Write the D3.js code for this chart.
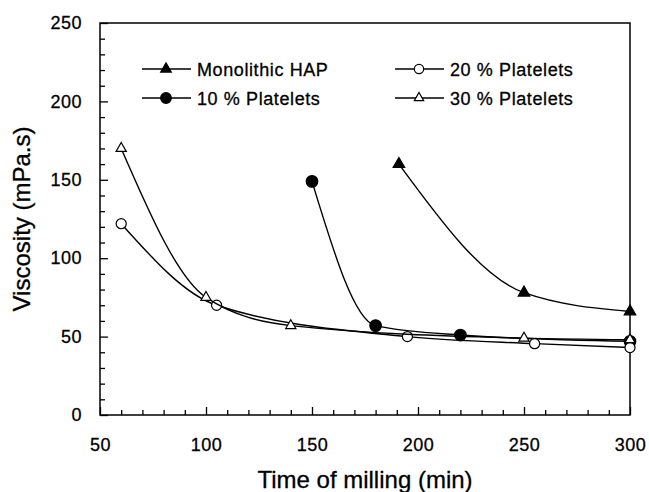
<!DOCTYPE html>
<html>
<head>
<meta charset="utf-8">
<script src="https://cdn.jsdelivr.net/npm/d3@7"></script>
<style>
  html, body { margin: 0; padding: 0; background: #fff; }
  text { font-family: "Liberation Sans", Arial, Helvetica, sans-serif; fill: #000; stroke: #000; stroke-width: 0.3px; }
</style>
</head>
<body>
<svg id="chart"></svg>
<script>
// time of milling (min) and viscosity (mPa.s)
const monoTime = [191, 250, 300];
const monoVisc = [160, 78, 66];

const p10Time = [150, 180, 220, 300];
const p10Visc = [149, 57, 51, 47];

const p20Time = [60, 105, 195, 255, 300];
const p20Visc = [122, 70, 50, 45.5, 43];

const p30Time = [60, 100, 140, 250, 300];
const p30Visc = [170, 75, 57, 49, 48];

const xTicks = [50, 100, 150, 200, 250, 300];
const yTicks = [0, 50, 100, 150, 200, 250];

const seriesNames = ["Monolithic HAP", "10 % Platelets", "20 % Platelets", "30 % Platelets"];

const width = 649;
const height = 492;
const margin = { left: 100, right: 19, top: 23, bottom: 77 };

const svg = d3.select("#chart")
    .attr("width", width)
    .attr("height", height);

const x = d3.scaleLinear()
    .domain([50, 300])
    .range([margin.left, width - margin.right]);

const y = d3.scaleLinear()
    .domain([0, 250])
    .range([height - margin.bottom, margin.top]);

const series = [
  { name: seriesNames[0], time: monoTime, visc: monoVisc, shape: d3.symbolTriangle, size: 58, fill: "#000" },
  { name: seriesNames[1], time: p10Time, visc: p10Visc, shape: d3.symbolCircle, size: 105, fill: "#000" },
  { name: seriesNames[2], time: p20Time, visc: p20Visc, shape: d3.symbolCircle, size: 80, fill: "#fff" },
  { name: seriesNames[3], time: p30Time, visc: p30Visc, shape: d3.symbolTriangle, size: 45, fill: "#fff" }
];

// minor ticks every 10
const xMinor = d3.range(50, 301, 10).filter(v => !xTicks.includes(v));
const yMinor = d3.range(0, 251, 10).filter(v => !yTicks.includes(v));

svg.append("g")
    .attr("transform", `translate(0,${y(0)})`)
    .call(d3.axisBottom(x).tickValues(xTicks).tickSize(-8).tickPadding(23));

svg.append("g")
    .attr("transform", `translate(0,${y(0)})`)
    .call(d3.axisBottom(x).tickValues(xMinor).tickSize(-5).tickFormat(""));

svg.append("g")
    .attr("transform", `translate(${x(50)},0)`)
    .call(d3.axisLeft(y).tickValues(yTicks).tickSize(-8).tickPadding(18));

svg.append("g")
    .attr("transform", `translate(${x(50)},0)`)
    .call(d3.axisLeft(y).tickValues(yMinor).tickSize(-5).tickFormat(""));

svg.selectAll(".domain").remove();
svg.selectAll(".tick line").attr("stroke", "#000").attr("stroke-width", 1.3);
svg.selectAll(".tick text")
    .style("font-size", "18px")
    .style("letter-spacing", "0.5px")
    .attr("fill", "#000");

// frame
svg.append("rect")
    .attr("x", x(50))
    .attr("y", y(250))
    .attr("width", x(300) - x(50))
    .attr("height", y(0) - y(250))
    .attr("fill", "none")
    .attr("stroke", "#000")
    .attr("stroke-width", 1.5);

const line = d3.line()
    .x(d => x(d[0]))
    .y(d => y(d[1]))
    .curve(d3.curveMonotoneX);

series.forEach(s => {
  const pts = s.time.map((t, i) => [t, s.visc[i]]);

  svg.append("path")
      .datum(pts)
      .attr("d", line)
      .attr("fill", "none")
      .attr("stroke", "#000")
      .attr("stroke-width", 1.4);

  svg.selectAll(null)
      .data(pts)
      .enter()
      .append("path")
      .attr("transform", d => `translate(${x(d[0])},${y(d[1])})`)
      .attr("d", d3.symbol().type(s.shape).size(s.size))
      .attr("fill", s.fill)
      .attr("stroke", "#000")
      .attr("stroke-width", 1.2);
});

// legend
const legendPos = [
  { x: 142, y: 69 },
  { x: 142, y: 98 },
  { x: 395, y: 69 },
  { x: 395, y: 98 }
];

series.forEach((s, i) => {
  const p = legendPos[i];
  const g = svg.append("g").attr("transform", `translate(${p.x},${p.y})`);
  g.append("line")
      .attr("x1", 0).attr("x2", 49)
      .attr("y1", 0).attr("y2", 0)
      .attr("stroke", "#000")
      .attr("stroke-width", 1.4);
  g.append("path")
      .attr("transform", "translate(24,0)")
      .attr("d", d3.symbol().type(s.shape).size(s.size * 0.85))
      .attr("fill", s.fill)
      .attr("stroke", "#000")
      .attr("stroke-width", 1.2);
  g.append("text")
      .attr("x", 55)
      .attr("y", 6.5)
      .style("font-size", "18px")
      .style("letter-spacing", "0.6px")
      .text(s.name);
});

// axis titles
svg.append("text")
    .attr("x", (x(50) + x(300)) / 2)
    .attr("y", 488)
    .attr("text-anchor", "middle")
    .style("font-size", "24px")
    .text("Time of milling (min)");

svg.append("text")
    .attr("transform", `translate(30,${(y(0) + y(250)) / 2}) rotate(-90)`)
    .attr("text-anchor", "middle")
    .style("font-size", "24px")
    .text("Viscosity (mPa.s)");
</script>
</body>
</html>
